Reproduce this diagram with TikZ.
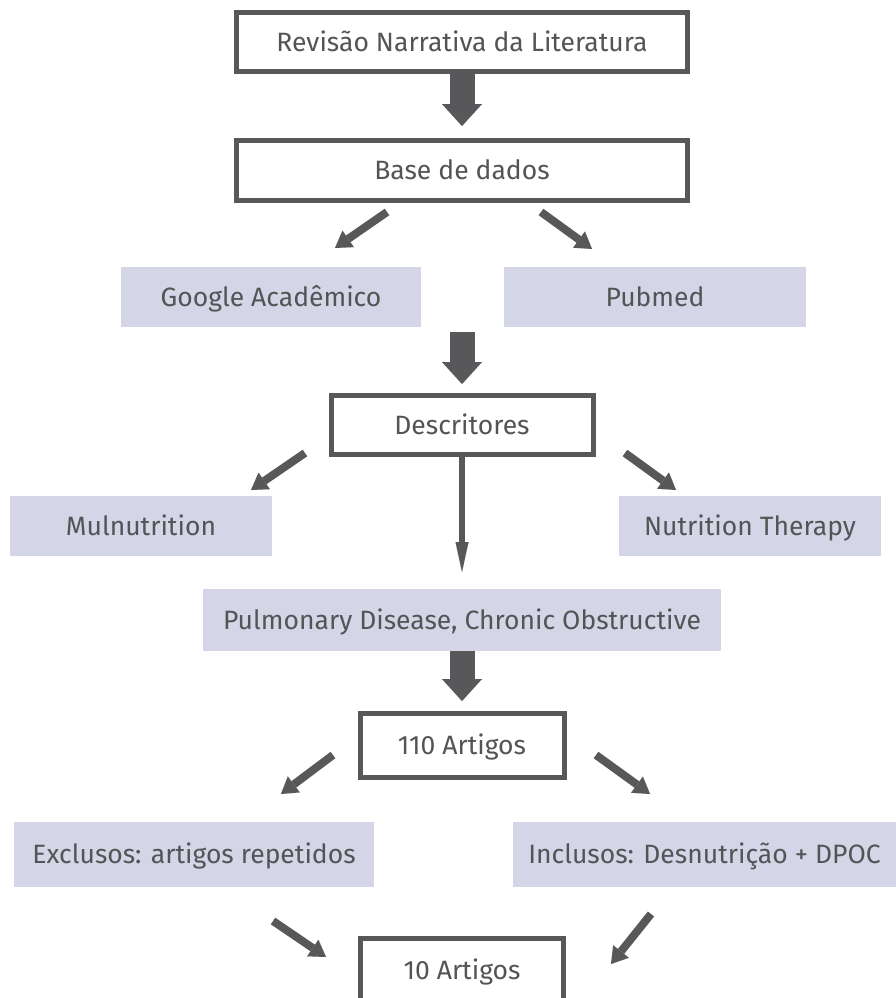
\documentclass[tikz,border=0pt]{standalone}
\usepackage{fontspec}
\setmainfont{Fira Sans}
\usetikzlibrary{arrows.meta,positioning}
\definecolor{boxline}{RGB}{88,88,90}
\definecolor{boxfill}{RGB}{212,213,231}
\definecolor{txtgray}{RGB}{84,84,86}

\begin{document}
\begin{tikzpicture}[x=1pt,y=-1pt,
  every node/.style={font=\fontsize{26.5}{31}\selectfont, text=txtgray, inner sep=0pt, outer sep=0pt, text height=25.2pt, text depth=6.6pt},
  framebox/.style={draw=boxline, line width=5pt, fill=white},
  bluebox/.style={fill=boxfill},
  fatarrow/.style={draw=boxline, line width=25pt, -{Triangle[length=22pt,width=40pt,line width=0.01pt]}},
  thinarrow/.style={draw=boxline, line width=8pt, -{Triangle[length=16pt,width=20pt,line width=0.01pt]}},
  longarrow/.style={draw=boxline, line width=6pt, -{Triangle[length=30pt,width=13pt,line width=0.01pt]}}]
\def\midx{462}
\useasboundingbox (0,0) rectangle (896,998);

\node[framebox, minimum width=451pt, minimum height=59pt] (rev) at (\midx,42) {Revisão Narrativa da Literatura};
\node[framebox, minimum width=451pt, minimum height=60pt] (base) at (\midx,170.5) {Base de dados};

\node[bluebox, minimum width=300pt, minimum height=60pt] (google) at (271,297) {Google Acadêmico};
\node[bluebox, minimum width=302pt, minimum height=60pt] (pubmed) at (655,297) {Pubmed};

\node[framebox, minimum width=262pt, minimum height=59pt] (desc) at (\midx,425) {Descritores};

\node[bluebox, minimum width=262pt, minimum height=60pt] (mul) at (141,526) {Mulnutrition};
\node[bluebox, minimum width=262pt, minimum height=60pt] (nut) at (750,526) {Nutrition Therapy};
\node[bluebox, minimum width=518pt, minimum height=62pt] (pulm) at (\midx,620) {Pulmonary Disease, Chronic Obstructive};

\node[framebox, minimum width=204pt, minimum height=64pt] (art110) at (\midx,745.5) {110 Artigos};

\node[bluebox, minimum width=360pt, minimum height=65pt] (excl) at (194,854.5) {Exclusos: artigos repetidos};
\node[bluebox, minimum width=383pt, minimum height=65pt] (incl) at (704.5,854.5) {Inclusos: Desnutrição + DPOC};

\node[framebox, minimum width=203pt, minimum height=64pt] (art10) at (\midx,970.5) {10 Artigos};

% ends of the small arrows
\coordinate (dbs) at (\midx,332);
\coordinate (b1) at (387,212); \coordinate (g1) at (335,248);
\coordinate (b2) at (541,212); \coordinate (p1) at (592,249);
\coordinate (d1) at (305,453); \coordinate (m1) at (251,490);
\coordinate (d2) at (625,453); \coordinate (n1) at (676,490);
\coordinate (a1) at (333,755); \coordinate (e1) at (281,794);
\coordinate (a2) at (596,755); \coordinate (i1) at (650,794);
\coordinate (e2) at (273,921); \coordinate (t1) at (326,957);
\coordinate (i2) at (651,914); \coordinate (t2) at (611,964);

\draw[fatarrow, shorten <=2.5pt, shorten >=14.5pt] (rev.south) -- (base.north);
\draw[fatarrow, shorten >=11.5pt] (dbs) -- (desc.north);
\draw[fatarrow, shorten >=12.5pt] (pulm.south) -- (art110.north);
\draw[longarrow, shorten >=17pt] (desc.south) -- (pulm.north);

\draw[thinarrow] (b1) -- (g1);
\draw[thinarrow] (b2) -- (p1);
\draw[thinarrow] (d1) -- (m1);
\draw[thinarrow] (d2) -- (n1);
\draw[thinarrow] (a1) -- (e1);
\draw[thinarrow] (a2) -- (i1);
\draw[thinarrow] (e2) -- (t1);
\draw[thinarrow] (i2) -- (t2);
\end{tikzpicture}
\end{document}
